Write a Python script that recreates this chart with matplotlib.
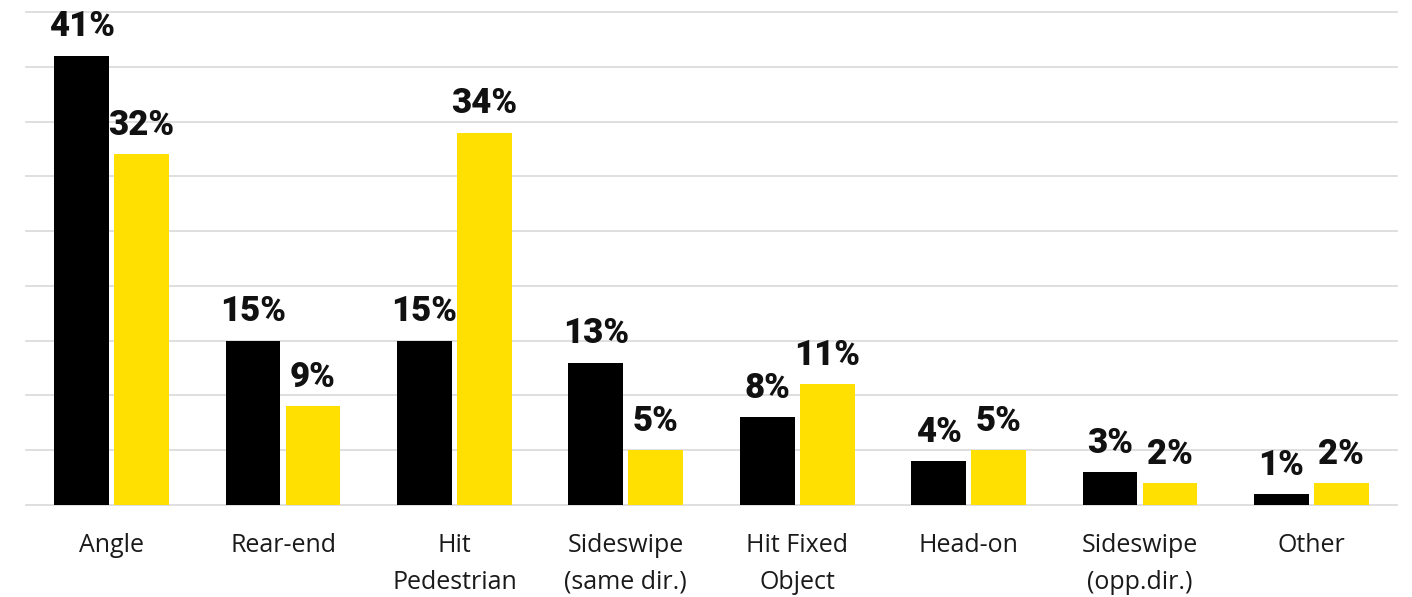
import matplotlib
matplotlib.use("Agg")
import matplotlib.pyplot as plt
import numpy as np

categories = ["Angle", "Rear-end", "Hit\nPedestrian", "Sideswipe\n(same dir.)",
              "Hit Fixed\nObject", "Head-on", "Sideswipe\n(opp.dir.)", "Other"]
series_black = [41, 15, 15, 13, 8, 4, 3, 1]
series_yellow = [32, 9, 34, 5, 11, 5, 2, 2]

BLACK = "#000000"
YELLOW = "#FFE000"

fig = plt.figure(figsize=(14.12, 5.97), dpi=100)
ax = fig.add_axes([26 / 1412, 92 / 597, 1371 / 1412, 493 / 597])

x = np.arange(len(categories))
w = 0.32
off = 0.175
b1 = ax.bar(x - off, series_black, width=w, color=BLACK, zorder=3)
b2 = ax.bar(x + off, series_yellow, width=w, color=YELLOW, zorder=3)

for bars, vals in ((b1, series_black), (b2, series_yellow)):
    for r, v in zip(bars, vals):
        ax.annotate(f"{v}%", (r.get_x() + r.get_width() / 2, r.get_height()),
                    xytext=(0, 14), textcoords="offset points",
                    ha="center", va="baseline", fontsize=25,
                    fontweight=900, family="Roboto", color="#111111")

ax.set_xlim(-0.5, len(categories) - 0.5)
ax.set_ylim(0, 45)
ax.set_yticks(np.arange(0, 46, 5))
ax.yaxis.grid(True, color="#d9d9d9", linewidth=1.2, zorder=0)
for gl in ax.get_ygridlines():
    gl.set_clip_on(False)
ax.tick_params(axis="y", left=False, labelleft=False)
ax.tick_params(axis="x", bottom=False, pad=17)
ax.set_xticks(x)
ax.set_xticklabels(categories, fontsize=18, family="Open Sans", color="#1a1a1a",
                   linespacing=1.6)
for s in ax.spines.values():
    s.set_visible(False)

fig.savefig("out.png", dpi=100)
